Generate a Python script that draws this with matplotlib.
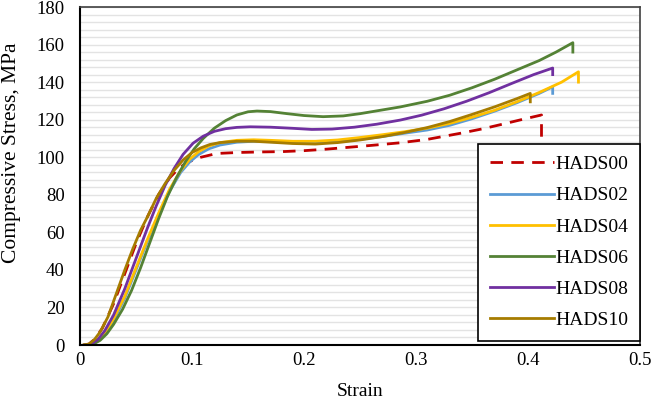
import matplotlib
matplotlib.use('Agg')
import matplotlib.pyplot as plt
from matplotlib.ticker import MultipleLocator

plt.rcParams['font.family'] = ['Liberation Serif', 'DejaVu Serif']

# strain / stress points
x00 = [0.003, 0.008, 0.013, 0.02, 0.03, 0.04, 0.05, 0.06, 0.07, 0.08, 0.088, 0.095, 0.101, 0.108, 0.115, 0.122, 0.14, 0.16, 0.181, 0.2, 0.22, 0.24, 0.26, 0.286, 0.31, 0.34, 0.36, 0.38, 0.396, 0.412, 0.412]
y00 = [0, 0.5, 3, 9, 22, 38, 54, 68, 80, 89, 94, 97, 98.5, 100, 101, 102, 102.5, 102.8, 103, 103.5, 104.3, 105.3, 106.3, 107.7, 109.5, 112.8, 115.2, 118, 120.3, 122.5, 10]

x02 = [0.004, 0.01, 0.016, 0.022, 0.03, 0.04, 0.05, 0.06, 0.07, 0.08, 0.09, 0.098, 0.106, 0.115, 0.125, 0.14, 0.155, 0.17, 0.19, 0.21, 0.23, 0.25, 0.27, 0.29, 0.31, 0.33, 0.35, 0.37, 0.39, 0.41, 0.422, 0.422]
y02 = [0, 0.5, 2.5, 6, 13, 25, 40, 55, 69, 82, 92, 97.5, 101.5, 104.5, 106.5, 108, 108.5, 108.3, 107.8, 107.5, 108.2, 109.5, 111, 112.8, 114.5, 117, 120.5, 124.5, 129, 134, 137.5, 134]

x04 = [0.004, 0.01, 0.016, 0.022, 0.03, 0.04, 0.05, 0.06, 0.07, 0.08, 0.09, 0.098, 0.106, 0.115, 0.125, 0.14, 0.155, 0.17, 0.19, 0.21, 0.23, 0.25, 0.27, 0.29, 0.31, 0.33, 0.35, 0.37, 0.39, 0.41, 0.43, 0.445, 0.445]
y04 = [0, 0.5, 2.5, 6, 14, 26, 41, 56, 70, 83, 93, 99, 103, 106, 107.8, 109, 109.3, 109, 108.5, 108.5, 109.2, 110.5, 112, 113.6, 115.5, 118, 121.3, 125, 129.5, 134.5, 140, 145.5, 140]

x06 = [0.005, 0.012, 0.018, 0.024, 0.03, 0.038, 0.046, 0.054, 0.062, 0.07, 0.078, 0.086, 0.094, 0.102, 0.11, 0.12, 0.13, 0.14, 0.15, 0.158, 0.17, 0.185, 0.2, 0.217, 0.235, 0.25, 0.27, 0.286, 0.31, 0.33, 0.35, 0.37, 0.39, 0.41, 0.425, 0.44, 0.44]
y06 = [0, 0.5, 2.5, 6, 11, 19, 29, 41, 54, 67, 79, 89, 97.5, 104.5, 110, 115.5, 119.5, 122.5, 124.2, 124.6, 124.3, 123.2, 122.2, 121.6, 122, 123.2, 125.2, 126.8, 129.8, 133, 137, 141.5, 146.5, 151.5, 156, 161, 156]

x08 = [0.004, 0.01, 0.016, 0.022, 0.03, 0.04, 0.05, 0.06, 0.068, 0.076, 0.084, 0.092, 0.101, 0.11, 0.12, 0.13, 0.14, 0.152, 0.17, 0.19, 0.207, 0.225, 0.245, 0.265, 0.286, 0.305, 0.325, 0.345, 0.365, 0.385, 0.405, 0.422, 0.422]
y08 = [0, 0.5, 3, 7.5, 16, 30, 46, 62, 74, 85, 94, 101.5, 107.5, 111.2, 113.8, 115.2, 115.9, 116.2, 116, 115.4, 114.8, 115, 116, 117.6, 119.8, 122.4, 125.8, 129.8, 134.3, 139.2, 144, 147.5, 144]

x10 = [0.003, 0.008, 0.013, 0.018, 0.025, 0.034, 0.04, 0.047, 0.054, 0.06, 0.068, 0.076, 0.084, 0.092, 0.1, 0.108, 0.116, 0.125, 0.14, 0.155, 0.17, 0.19, 0.21, 0.23, 0.25, 0.27, 0.29, 0.31, 0.33, 0.35, 0.37, 0.39, 0.402, 0.402]
y10 = [0, 0.5, 3, 7, 15, 30, 40, 51, 61, 68, 78, 86, 93, 98.5, 102.5, 105, 106.8, 107.8, 108.5, 108.5, 108, 107.3, 107, 107.8, 109.2, 111, 113.2, 115.8, 119, 122.8, 126.8, 131.2, 134, 129.5]

fig = plt.figure(figsize=(6.52, 4.03), dpi=100)
ax = fig.add_axes([0.1227, 0.1439, 0.859, 0.8387])

lw = 2.0
ax.plot(x00, y00, color='#C00000', lw=lw, ls=(0, (4.5, 3)), label='HADS00')
ax.plot(x02, y02, color='#5B9BD5', lw=lw, label='HADS02')
ax.plot(x04, y04, color='#FFC000', lw=lw, label='HADS04')
ax.plot(x06, y06, color='#548235', lw=lw, label='HADS06')
ax.plot(x08, y08, color='#7030A0', lw=lw, label='HADS08')
ax.plot(x10, y10, color='#A67C00', lw=lw, label='HADS10')

ax.set_xlim(0, 0.5)
ax.set_ylim(0, 180)
ax.set_xticks([0, 0.1, 0.2, 0.3, 0.4, 0.5])
ax.set_xticklabels(['0', '0.1', '0.2', '0.3', '0.4', '0.5'])
ax.yaxis.set_major_locator(MultipleLocator(20))
ax.yaxis.set_minor_locator(MultipleLocator(4))

ax.grid(axis='y', which='both', color='#e3e3e3', lw=1.0)
ax.set_axisbelow(True)
ax.tick_params(which='both', length=0, labelsize=13.5)
ax.tick_params(axis='y', pad=11)
ax.tick_params(axis='x', pad=5)

for s in ['left', 'bottom']:
    ax.spines[s].set_color('black')
    ax.spines[s].set_linewidth(1.5)
for s in ['top', 'right']:
    ax.spines[s].set_color('#404040')
    ax.spines[s].set_linewidth(1.2)

ax.set_xlabel('Strain', fontsize=14, labelpad=10)
ax.set_ylabel('Compressive Stress, MPa', fontsize=15.5)
ax.yaxis.set_label_coords(-0.106, 0.57)

leg = ax.legend(loc='lower right', bbox_to_anchor=(1.0, 0.012), fontsize=14,
                frameon=True, fancybox=False, edgecolor='black', framealpha=1,
                handlelength=3.3, handletextpad=0.08, labelspacing=0.7,
                borderpad=0.6, borderaxespad=0)
leg.get_frame().set_linewidth(1.2)

fig.savefig('out.png', dpi=100)
